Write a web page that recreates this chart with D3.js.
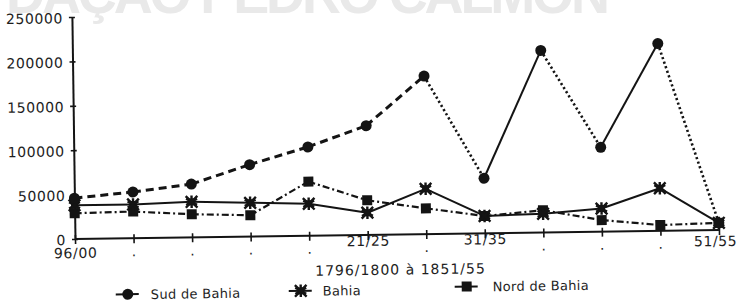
<!DOCTYPE html>
<html>
<head>
<meta charset="utf-8">
<script src="https://cdn.jsdelivr.net/npm/d3@7"></script>
<style>
  body { margin: 0; background: #fff; }
  svg { display: block; }
  text { font-family: "DejaVu Sans", sans-serif; fill: #1e1e1e; }
</style>
</head>
<body>
<div id="chart"></div>
<script>
// periods on the x axis (quinquennia)
const periods = ["1796/1800", "1801/05", "1806/10", "1811/15", "1816/20", "1821/25",
                 "1826/30", "1831/35", "1836/40", "1841/45", "1846/50", "1851/55"];
const tickLabels = ["96/00", ".", ".", ".", ".", "21/25", ".", "31/35", ".", ".", ".", "51/55"];
const yTicks = [0, 50000, 100000, 150000, 200000, 250000];

// values
const sudBahia  = [46000, 52000, 60000, 81000, 100000, 123000, 178000, 62000, 205000, 95000, 211000, 8000];
const bahia     = [38000, 38000, 40000, 38000, 36000, 25000, 51000, 19500, 21000, 26000, 48000, 8000];
const nordBahia = [29000, 30000, 26000, 24000, 61000, 39000, 29000, 19500, 25000, 13000, 6500, 8000];

// line style of each segment of the "Sud de Bahia" series
const sudSegments = ["dash", "dash", "dash", "dash", "dash", "dash",
                     "dot", "solid", "dot", "solid", "dot"];

const ink = "#141414";
const W = 742, H = 302;

const svg = d3.select("#chart").append("svg")
    .attr("width", W)
    .attr("height", H);

// scan watermark at the top
svg.append("text")
    .attr("x", 6)
    .attr("y", 13)
    .attr("textLength", 604)
    .attr("lengthAdjust", "spacing")
    .style("font-family", "'Liberation Sans', sans-serif")
    .style("font-weight", "bold")
    .style("font-size", "54px")
    .style("fill", "#e9e9e9")
    .text("DAÇÃO PEDRO CALMON");

// the page was scanned slightly askew
const g = svg.append("g")
    .attr("transform", "rotate(-0.8,75,239)");

const x = d3.scalePoint()
    .domain(periods)
    .range([75, 719]);

const y = d3.scaleLinear()
    .domain([0, 250000])
    .range([239, 17]);

// Y axis
const yAxis = g.append("g")
    .attr("transform", "translate(75,0)")
    .call(d3.axisLeft(y)
        .tickValues(yTicks)
        .tickFormat(d3.format("d"))
        .tickSizeInner(3)
        .tickSizeOuter(0)
        .tickPadding(6));
yAxis.select(".domain").attr("stroke", ink).attr("stroke-width", 2);
yAxis.selectAll(".tick line").attr("x1", 3).attr("x2", -3)
    .attr("stroke", ink).attr("stroke-width", 1.6);
yAxis.selectAll(".tick text")
    .attr("dy", "0.4em")
    .style("font-size", "14px")
    .style("letter-spacing", "0.6px")
    .attr("fill", "#1e1e1e");

// X axis
const labelDrop = {"96/00": 19, "21/25": 11, "31/35": 11, "51/55": 16};
const xAxis = g.append("g")
    .attr("transform", "translate(0,239)")
    .call(d3.axisBottom(x)
        .tickFormat((d, i) => tickLabels[i])
        .tickSizeInner(5)
        .tickSizeOuter(0));
xAxis.select(".domain").attr("stroke", ink).attr("stroke-width", 2)
    .attr("d", `M75,0H719`);
xAxis.selectAll(".tick line").attr("y1", -4).attr("y2", 5)
    .attr("stroke", ink).attr("stroke-width", 1.6);
xAxis.selectAll(".tick text")
    .attr("dy", null)
    .attr("y", (d, i) => labelDrop[tickLabels[i]] || 18)
    .attr("dx", (d, i) => tickLabels[i] === "51/55" ? -4 : 0)
    .style("font-size", "14px")
    .style("letter-spacing", "0.6px")
    .attr("fill", "#1e1e1e");

// axis title
g.append("text")
    .attr("x", 400)
    .attr("y", 279)
    .attr("text-anchor", "middle")
    .style("font-size", "14px")
    .style("letter-spacing", "1px")
    .text("1796/1800 à 1851/55");

// lines
const dashFor = {dash: "8,5", dot: "2.2,2.6", solid: null, dashdot: "7,3,2,3"};
const widthFor = {dash: 3, dot: 2.6, solid: 2, dashdot: 2.2};

function drawSeries(values, styles) {
    const pts = values.map((v, i) => [x(periods[i]), y(v)]);
    for (let i = 0; i < pts.length - 1; i++) {
        const s = styles[i];
        g.append("path")
            .attr("d", d3.line()([pts[i], pts[i + 1]]))
            .attr("fill", "none")
            .attr("stroke", ink)
            .attr("stroke-width", widthFor[s])
            .attr("stroke-dasharray", dashFor[s]);
    }
}

drawSeries(nordBahia, nordBahia.map(() => "dashdot"));
drawSeries(bahia, bahia.map(() => "solid"));
drawSeries(sudBahia, sudSegments);

// markers
function marker(sel, kind) {
    if (kind === "circle") {
        sel.append("circle").attr("r", 5.5).attr("fill", ink);
    } else if (kind === "square") {
        sel.append("rect").attr("x", -5).attr("y", -5)
            .attr("width", 10).attr("height", 10).attr("fill", ink);
    } else {
        sel.append("rect").attr("x", -3.5).attr("y", -3.5)
            .attr("width", 7).attr("height", 7).attr("fill", ink);
        sel.append("path").attr("d", d3.symbol(d3.symbolAsterisk, 110)())
            .attr("stroke", ink).attr("stroke-width", 2.4).attr("fill", "none");
        sel.append("path").attr("d", d3.symbol(d3.symbolTimes, 90)())
            .attr("stroke", ink).attr("stroke-width", 2.4).attr("fill", "none");
    }
}

function drawMarkers(values, kind) {
    g.append("g").selectAll("g")
        .data(values)
        .join("g")
        .attr("transform", (d, i) => `translate(${x(periods[i])},${y(d)})`)
        .each(function () { marker(d3.select(this), kind); });
}

drawMarkers(nordBahia, "square");
drawMarkers(bahia, "asterisk");
drawMarkers(sudBahia, "circle");

// legend
const legendItems = [
    {name: "Sud de Bahia", kind: "circle", mx: 127, my: 295, tx: 150},
    {name: "Bahia", kind: "asterisk", mx: 300, my: 294, tx: 322},
    {name: "Nord de Bahia", kind: "square", mx: 466, my: 292, tx: 492}
];

const legend = g.selectAll(".legend")
    .data(legendItems)
    .join("g")
    .attr("class", "legend");

legend.append("line")
    .attr("x1", d => d.mx - 12)
    .attr("x2", d => d.mx + 11)
    .attr("y1", d => d.my)
    .attr("y2", d => d.my)
    .attr("stroke", ink)
    .attr("stroke-width", 2);

legend.append("g")
    .attr("transform", d => `translate(${d.mx},${d.my})`)
    .each(function (d) { marker(d3.select(this), d.kind); });

legend.append("text")
    .attr("x", d => d.tx)
    .attr("y", d => d.my + 5)
    .style("font-size", "13px")
    .style("letter-spacing", "0.3px")
    .text(d => d.name);
</script>
</body>
</html>
